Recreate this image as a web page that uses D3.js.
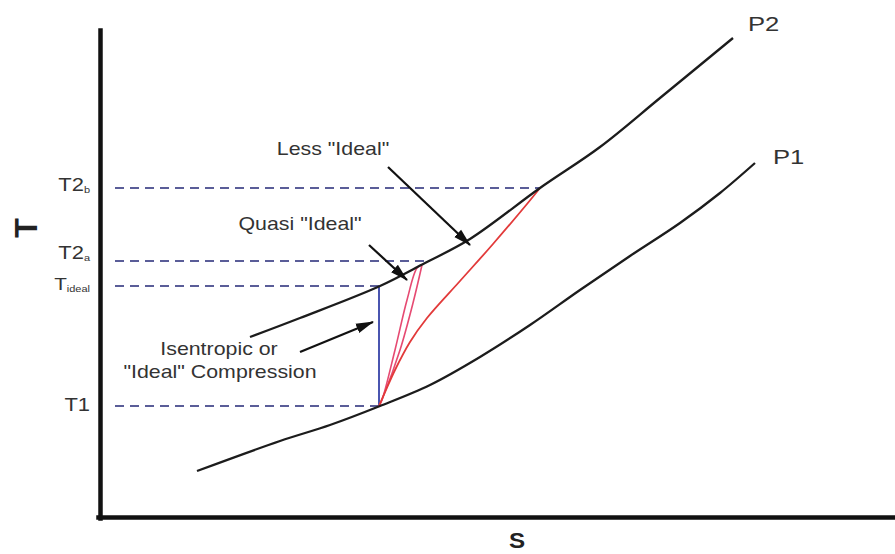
<!DOCTYPE html>
<html><head><meta charset="utf-8">
<script src="https://cdn.jsdelivr.net/npm/d3@7"></script>
<style>body{margin:0;background:#fff} svg{display:block}</style>
</head><body>
<svg id="c" width="895" height="554"></svg>
<script>
// ---- data (entropy s, temperature T, arbitrary units) ----
const p2S = [1.52, 2.02, 2.82, 3.27, 3.72, 4.42, 5.02, 5.62, 6.35];
const p2T = [1.81, 2.00, 2.32, 2.55, 2.79, 3.30, 3.71, 4.20, 4.80];
const p1S = [0.99, 1.82, 2.32, 2.82, 3.32, 3.82, 4.32, 4.82, 5.32, 5.82, 6.22, 6.57];
const p1T = [0.47, 0.77, 0.93, 1.12, 1.33, 1.61, 1.93, 2.28, 2.62, 2.95, 3.25, 3.55];
const quasiRS = [2.81, 2.85, 3.02, 3.15, 3.24];
const quasiRT = [1.12, 1.21, 1.68, 2.15, 2.53];
const quasiLS = [2.81, 2.84, 2.97, 3.09, 3.19, 3.24];
const quasiLT = [1.12, 1.18, 1.68, 2.18, 2.50, 2.53];
const lessS = [2.81, 2.88, 2.97, 3.12, 3.29, 3.62, 3.95, 4.29, 4.42];
const lessT = [1.12, 1.28, 1.48, 1.76, 2.00, 2.37, 2.74, 3.14, 3.30];
const levelNames = ["T1", "Tideal", "T2a", "T2b"];
const levelT = [1.12, 2.32, 2.57, 3.30];
const levelEndS = [2.80, 2.81, 3.29, 4.42];
const levelStartS = 0.17;
const isenS = 2.81;
const arrowFromS = [2.90, 2.71, 2.02];
const arrowFromT = [3.51, 2.73, 1.66];
const arrowToS = [3.72, 3.09, 2.75];
const arrowToT = [2.73, 2.38, 1.96];

const svg = d3.select("#c");
const x = d3.scaleLinear().domain([0, 7.97]).range([98, 895]);
const y = d3.scaleLinear().domain([0, 4.88]).range([518, 30]);

const line = d3.line().x(d => x(d[0])).y(d => y(d[1])).curve(d3.curveCatmullRom.alpha(0.5));
const zip = (a, b) => a.map((v, i) => [v, b[i]]);

// dashed level lines
levelT.forEach((t, i) => {
  svg.append("line")
    .attr("x1", x(levelStartS)).attr("x2", x(levelEndS[i]))
    .attr("y1", y(t)).attr("y2", y(t))
    .attr("stroke", "#5a5d98").attr("stroke-width", 2.2)
    .attr("stroke-dasharray", "9,6");
});

// isentropic blue line
svg.append("line")
  .attr("x1", x(isenS)).attr("x2", x(isenS))
  .attr("y1", y(levelT[0])).attr("y2", y(levelT[1]))
  .attr("stroke", "#4a55b0").attr("stroke-width", 2);

// red process curves
svg.append("path").attr("d", line(zip(quasiLS, quasiLT)))
  .attr("fill", "none").attr("stroke", "#e64a72").attr("stroke-width", 1.6);
svg.append("path").attr("d", line(zip(quasiRS, quasiRT)))
  .attr("fill", "none").attr("stroke", "#e64a72").attr("stroke-width", 1.6);
svg.append("path").attr("d", line(zip(lessS, lessT)))
  .attr("fill", "none").attr("stroke", "#e23a3a").attr("stroke-width", 1.8);

// isobars
svg.append("path").attr("d", line(zip(p2S, p2T)))
  .attr("fill", "none").attr("stroke", "#1c1c1c").attr("stroke-width", 2.3);
svg.append("path").attr("d", line(zip(p1S, p1T)))
  .attr("fill", "none").attr("stroke", "#1c1c1c").attr("stroke-width", 2.3);

// axes
svg.append("g").attr("transform", "translate(100,0)")
  .call(d3.axisLeft(y).tickValues([]).tickSizeOuter(0));
svg.append("g").attr("transform", "translate(0,517)")
  .call(d3.axisBottom(x).tickValues([]).tickSizeOuter(0));
svg.selectAll(".domain").attr("stroke", "#111").attr("stroke-width", 4.5)
  .attr("stroke-linecap", "square");

// arrows
const defs = svg.append("defs");
defs.append("marker").attr("id", "ah").attr("markerUnits", "userSpaceOnUse")
  .attr("viewBox", "0 -6 18 12").attr("markerWidth", 18).attr("markerHeight", 12)
  .attr("refX", 17).attr("refY", 0).attr("orient", "auto")
  .append("path").attr("d", "M0,-5L18,0L0,5Z").attr("fill", "#111");
arrowFromS.forEach((s, i) => {
  svg.append("line")
    .attr("x1", x(s)).attr("y1", y(arrowFromT[i]))
    .attr("x2", x(arrowToS[i])).attr("y2", y(arrowToT[i]))
    .attr("stroke", "#111").attr("stroke-width", 2.2)
    .attr("marker-end", "url(#ah)");
});

// text helper with horizontal stretch
const FONT = "'Liberation Sans', Arial, Helvetica, sans-serif";
function txt(px, py, str, size, anchor, weight) {
  return svg.append("text")
    .attr("transform", `translate(${px},${py}) scale(1.22,1)`)
    .attr("text-anchor", anchor || "start")
    .attr("font-family", FONT).attr("font-size", size)
    .attr("font-weight", weight || "normal")
    .attr("fill", "#333").text(str);
}

txt(333, 155, 'Less "Ideal"', 17.5, "middle");
txt(300, 230, 'Quasi "Ideal"', 17.5, "middle");
txt(219, 355, 'Isentropic or', 17.5, "middle");
txt(220, 378, '"Ideal" Compression', 17.5, "middle");
txt(748, 31, "P2", 21);
txt(773, 164, "P1", 21);

// level labels with subscripts
function levelLabel(i, main, sub, mainSize, dy) {
  const t = svg.append("text")
    .attr("transform", `translate(90,${y(levelT[i]) + dy}) scale(1.22,1)`)
    .attr("text-anchor", "end").attr("font-family", FONT).attr("fill", "#333");
  t.append("tspan").attr("font-size", mainSize).text(main);
  if (sub) t.append("tspan").attr("font-size", 9).attr("dy", 2).text(sub);
}
levelLabel(0, "T1", null, 18, 5);
levelLabel(1, "T", "ideal", 17, 4);
levelLabel(2, "T2", "a", 18, -2);
levelLabel(3, "T2", "b", 18, 3);

// axis titles
svg.append("text").attr("transform", "translate(37,228) rotate(-90)")
  .attr("text-anchor", "middle").attr("font-family", FONT)
  .attr("font-size", 32).attr("font-weight", "bold").attr("fill", "#222").text("T");
svg.append("text").attr("transform", "translate(517,548) scale(1.1,1)")
  .attr("text-anchor", "middle").attr("font-family", FONT)
  .attr("font-size", 22).attr("font-weight", "bold").attr("fill", "#222").text("S");
</script>
</body></html>
